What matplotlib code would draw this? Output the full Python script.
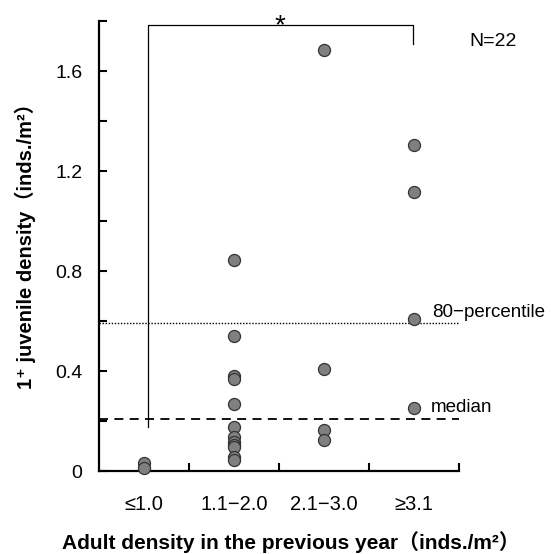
import numpy as np
import matplotlib.pyplot as plt

plt.rcParams['font.family'] = ['Liberation Sans', 'Noto Sans CJK JP', 'DejaVu Sans']

categories = ['≤1.0', '1.1−2.0', '2.1−3.0', '≥3.1']
grp1 = [0.033, 0.011]
grp2 = [0.844, 0.54, 0.38, 0.367, 0.268, 0.175, 0.137, 0.115, 0.105, 0.097, 0.055, 0.044]
grp3 = [1.684, 0.41, 0.165, 0.125]
grp4 = [1.304, 1.115, 0.607, 0.251]
groups = [grp1, grp2, grp3, grp4]

median = 0.21
pct80 = 0.593
n_total = sum(len(g) for g in groups)

fig = plt.figure(figsize=(5.56, 5.54), dpi=100)
ax = fig.add_axes([0.178, 0.1498, 0.6475, 0.8122])

for i, g in enumerate(groups):
    ax.scatter(np.full(len(g), i + 1), g, s=75, facecolor='#808080',
               edgecolor='#333333', linewidth=0.9, zorder=3, clip_on=False)

# reference lines
ax.axhline(pct80, color='black', lw=1.0, ls=(0, (1, 1.2)), zorder=1)
ax.axhline(median, color='black', lw=1.3, ls=(0, (5, 3.5)), zorder=1)
ax.text(4.2, pct80 + 0.008, '80−percentile', fontsize=13.5, va='bottom', ha='left')
ax.text(4.19, median + 0.01, 'median', fontsize=13.5, va='bottom', ha='left')

# significance bracket
top = 1.784
ax.plot([1.04, 1.04, 3.99, 3.99], [0.177, top, top, 1.71], color='black', lw=0.9,
        clip_on=False)
ax.text(2.515, top - 0.055, '*', fontsize=20, ha='center', va='bottom')
ax.text(4.62, 1.72, f'N={n_total}', fontsize=14, ha='left', va='center')

ax.set_xlim(0.5, 4.5)
ax.set_ylim(0, 1.8)
ax.set_xticks([1.5, 2.5, 3.5, 4.5])
ax.set_xticklabels([])
ax.set_xticks([1, 2, 3, 4], minor=True)
ax.set_xticklabels(categories, minor=True, fontsize=14.5)
ax.tick_params(axis='x', which='major', direction='in', length=6, width=1.5)
ax.tick_params(axis='x', which='minor', length=0, pad=17)

ax.set_yticks([0, 0.4, 0.8, 1.2, 1.6])
ax.set_yticklabels(['0', '0.4', '0.8', '1.2', '1.6'], fontsize=14)
ax.set_yticks(np.arange(0.2, 1.81, 0.4), minor=True)
ax.tick_params(axis='y', which='both', direction='in', length=6, width=1.5, pad=12)

for side in ['top', 'right']:
    ax.spines[side].set_visible(False)
for side in ['left', 'bottom']:
    ax.spines[side].set_linewidth(1.6)

fig.text(0.524, 0.021, 'Adult density in the previous year（inds./m²）',
         fontsize=15, fontweight='bold', ha='center', va='center')
fig.text(0.046, 0.565, '1⁺ juvenile density（inds./m²）', rotation=90,
         fontsize=14.5, fontweight='bold', ha='center', va='center')

fig.savefig('out.png', dpi=100)
